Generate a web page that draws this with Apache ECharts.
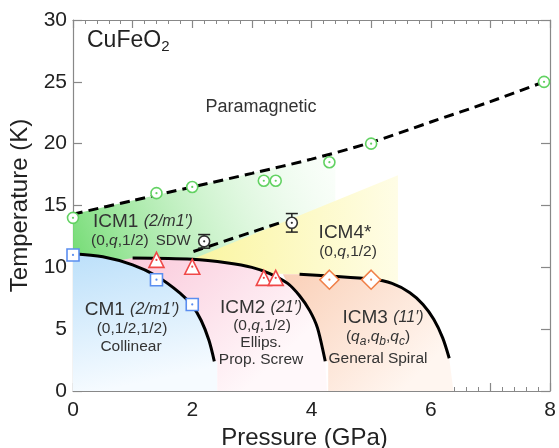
<!DOCTYPE html>
<html><head><meta charset="utf-8">
<script src="https://cdn.jsdelivr.net/npm/echarts@6/dist/echarts.min.js"></script>
<style>html,body{margin:0;padding:0;background:#fff}#c{width:559px;height:448px}</style>
</head><body><div id="c"></div>
<script>
// tick labels
const xTickLabels = [0, 2, 4, 6, 8];
const yTickLabels = [0, 5, 10, 15, 20, 25, 30];
// measured transition points
const paraPts = [[0,14],[1.4,16],[2,16.5],[3.2,17],[3.4,17],[4.3,18.5],[5,20],[7.9,25]];
const cm1Pts = [[0,11],[1.4,9],[2,7]];
const icm2Pts = [[1.4,10.6],[2,10.05],[3.2,9.15],[3.4,9.15]];
const icm3Pts = [[4.3,9],[5,9]];
const sdwPts = [[2.2,12.1,0.55],[3.67,13.6,0.75]];
// phase boundaries
const paraLine = [[0,14.3],[1,15.4],[2,16.5],[3,17.6],[4,18.75],[5,20.1],[6,21.75],[7,23.4],[7.9,25]];
const icm4Line = [[2.02,11.28],[3.53,13.7]];
const cm1Line = [[0,11.1],[0.5,10.85],[1.0,10.2],[1.4,9.3],[1.8,7.9],[2.0,6.9],[2.15,5.7],[2.28,4.1],[2.37,2.4]];
const icm2Line = [[1.0,10.75],[2.0,10.65],[2.6,10.35],[3.0,10.0],[3.3,9.5],[3.6,8.7],[3.8,7.7],[3.97,6.5],[4.1,5.1],[4.23,2.4]];
const icm3Line = [[3.8,9.45],[4.3,9.3],[5.0,9.05],[5.35,8.7],[5.65,7.95],[5.87,7.0],[6.05,5.8],[6.2,4.3],[6.31,2.65]];
// phase regions (shaded areas)
const regionICM1 = [[0,11.1],[0,14.3],[1,15.4],[2,16.5],[3,17.6],[4,18.75],[4.4,19.2],[4.4,9.3],[1,10.2],[0.5,10.9]];
const regionICM4 = [[2.0,10.65],[5.45,17.45],[5.45,8.4],[5.0,9.05],[4.3,9.3],[3.8,9.45],[3.3,9.5],[2.9,10.05]];
const regionCM1 = cm1Line.concat([[2.42,2.4],[2.42,0],[0,0]]);
const regionICM2 = [[0.8,10.6]].concat(icm2Line, [[4.26,0],[2.42,0],[2.42,2.4]], cm1Line.filter(p=>p[0]>=0.8).reverse());
const regionICM3 = [[3.52,9.45]].concat(icm3Line, [[6.38,0],[4.28,0],[4.28,2.4]], icm2Line.filter(p=>p[0]>=3.5).reverse());

const FONT = 'Liberation Sans, Arial, sans-serif';
const AX = '#888';
const chart = echarts.init(document.getElementById('c'));

function grad(x, y, x2, y2, c0, c1) {
  return {type:'linear', x:x, y:y, x2:x2, y2:y2, global:false, colorStops:[{offset:0,color:c0},{offset:1,color:c1}]};
}
function poly(pts, fill, z) {
  return {type:'custom', silent:true, z:z, data:[[0,0]], clip:true,
    renderItem:(params, api)=>({type:'polygon', shape:{points: pts.map(p=>api.coord(p)), smooth:0}, style:{fill: fill}})};
}
function line(pts, dashed) {
  return {type:'line', data:pts, smooth:0.3, symbol:'none', silent:true, z:5,
    lineStyle:{color:'#000', width:3, type: dashed ? [10,6] : 'solid', cap:'butt'}};
}
function marks(pts, symbol, size, color, z) {
  return [
    {type:'scatter', data:pts.map(p=>[p[0],p[1]]), symbol:symbol, symbolSize:size, z:z, silent:true,
      itemStyle:{color:'#fff', borderColor:color, borderWidth:1.6, opacity:1}},
    {type:'scatter', data:pts.map(p=>[p[0],p[1]]), symbol:'circle', symbolSize:2.2, z:z+1, silent:true,
      itemStyle:{color:color, opacity:1}}
  ];
}

const errSeries = {type:'custom', z:7, silent:true, data:sdwPts,
  renderItem:(params, api)=>{
    const x = api.value(0), y = api.value(1), e = api.value(2);
    const t = api.coord([x, y+e]), b = api.coord([x, y-e]);
    const w = 6, st = {stroke:'#222', lineWidth:1.5};
    return {type:'group', children:[
      {type:'line', shape:{x1:t[0],y1:t[1],x2:b[0],y2:b[1]}, style:st},
      {type:'line', shape:{x1:t[0]-w,y1:t[1],x2:t[0]+w,y2:t[1]}, style:st},
      {type:'line', shape:{x1:b[0]-w,y1:b[1],x2:b[0]+w,y2:b[1]}, style:st}
    ]};
  }};

const base = {n:{fontSize:15.5, fill:'#333', fontFamily:FONT, lineHeight:22},
  i:{fontSize:15.5, fontStyle:'italic', fill:'#333', fontFamily:FONT, lineHeight:22},
  g:{fontSize:15, fill:'#333', fontFamily:FONT, lineHeight:22, padding:[0,0,0,7]},
  p:{fontSize:18, fill:'#333', fontFamily:FONT, lineHeight:22},
  t:{fontSize:19, fill:'#333', fontFamily:FONT, lineHeight:22},
  ti:{fontSize:16, fontStyle:'italic', fill:'#333', fontFamily:FONT, lineHeight:22},
  s:{fontSize:12, fontStyle:'italic', fill:'#333', fontFamily:FONT, lineHeight:12, verticalAlign:'bottom'}};
function txt(x, y, text, align) {
  return {type:'text', x:x, y:y, z:100, silent:true,
    style:{text:text, rich:base, align:align || 'center', verticalAlign:'middle', fill:'#333', font:'16px '+FONT}};
}

const option = {
  animation:false,
  backgroundColor:'#fff',
  grid:{left:73, right:9, top:20, bottom:57, containLabel:false, outerBoundsMode:'none'},
  xAxis:[
    {type:'value', min:0, max:8, interval:1, position:'bottom',
      name:'Pressure (GPa)', nameLocation:'middle', nameGap:33,
      nameTextStyle:{fontSize:24, color:'#222', fontFamily:FONT, padding:[0,14,0,0]},
      axisLine:{show:true, onZero:false, lineStyle:{color:AX, width:1.2}},
      axisTick:{show:true, inside:true, length:8, lineStyle:{color:AX, width:1.2}},
      minorTick:{show:true, splitNumber:5, length:4, lineStyle:{color:AX, width:1}},
      splitLine:{show:false}, minorSplitLine:{show:false},
      axisLabel:{fontSize:21, color:'#222', fontFamily:FONT, margin:9, showMinLabel:true, showMaxLabel:true,
        formatter:v=>xTickLabels.indexOf(v)>=0 ? String(v) : ''}},
    {type:'value', min:0, max:8, interval:1, position:'top',
      axisLine:{show:true, onZero:false, lineStyle:{color:AX, width:1.2}},
      axisTick:{show:true, inside:true, length:8, lineStyle:{color:AX, width:1.2}},
      minorTick:{show:true, splitNumber:5, length:4, lineStyle:{color:AX, width:1}},
      splitLine:{show:false}, axisLabel:{show:false}}
  ],
  yAxis:[
    {type:'value', min:0, max:30, interval:5, position:'left',
      name:'Temperature (K)', nameLocation:'middle', nameGap:36, nameRotate:90,
      nameTextStyle:{fontSize:24, color:'#222', fontFamily:FONT},
      axisLine:{show:true, onZero:false, lineStyle:{color:AX, width:1.2}},
      axisTick:{show:true, inside:true, length:9, lineStyle:{color:AX, width:1.2}},
      splitLine:{show:false},
      axisLabel:{fontSize:21, color:'#222', fontFamily:FONT, margin:6, showMinLabel:true, showMaxLabel:true,
        formatter:v=>yTickLabels.indexOf(v)>=0 ? String(v) : ''}},
    {type:'value', min:0, max:30, interval:5, position:'right',
      axisLine:{show:true, onZero:false, lineStyle:{color:AX, width:1.2}},
      axisTick:{show:true, inside:true, length:9, lineStyle:{color:AX, width:1.2}},
      splitLine:{show:false}, axisLabel:{show:false}}
  ],
  series:[
    poly(regionICM1, grad(0,1,1,0,'rgba(110,218,110,1)','rgba(235,252,235,0.2)'), 1),
    poly(regionICM4, grad(0,0,1,0,'rgba(250,245,160,1)','rgba(255,253,230,1)'), 2),
    poly(regionCM1, grad(0,0,0.2,1,'rgb(188,224,250)','rgb(246,251,255)'), 3),
    poly(regionICM2, grad(0,0,0.6,1,'rgb(250,200,218)','rgb(255,248,250)'), 3),
    poly(regionICM3, grad(0,0,0.7,1,'rgb(250,208,184)','rgb(255,246,240)'), 3),
    line(paraLine, true),
    line(icm4Line, true),
    line(cm1Line, false),
    line(icm2Line, false),
    line(icm3Line, false),
    errSeries,
    ...marks(paraPts, 'circle', 11, '#62d262', 8),
    ...marks(cm1Pts, 'rect', 12, '#5b8ef0', 8),
    ...marks(icm2Pts, 'triangle', 15, '#f04848', 8),
    ...marks(icm3Pts, 'diamond', 19, '#f08048', 8),
    ...marks(sdwPts, 'circle', 11, '#333', 8)
  ],
  graphic:[
    {type:'text', left:87, top:29, z:100, silent:true, style:{text:'{a|CuFeO}{s|2}', rich:{
      a:{fontSize:23, fill:'#222', fontFamily:FONT, lineHeight:27},
      s:{fontSize:15, fill:'#222', fontFamily:FONT, lineHeight:15, verticalAlign:'bottom'}}}},
    txt(261, 107, '{p|Paramagnetic}'),
    txt(93, 222, '{t|ICM1 }{ti|(2/m1′)}', 'left'),
    txt(91, 241, '{n|(0,}{i|q}{n|,1/2)}{g|SDW}', 'left'),
    txt(345, 233, '{t|ICM4*}'),
    txt(348, 252, '{n|(0,}{i|q}{n|,1/2)}'),
    txt(132, 310, '{t|CM1 }{ti|(2/m1′)}'),
    txt(132, 329, '{n|(0,1/2,1/2)}'),
    txt(131, 347, '{n|Collinear}'),
    txt(261, 308, '{t|ICM2 }{ti|(21′)}'),
    txt(262, 326, '{n|(0,}{i|q}{n|,1/2)}'),
    txt(261, 343, '{n|Ellips.}'),
    txt(261, 360, '{n|Prop. Screw}'),
    txt(383, 318, '{t|ICM3 }{ti|(11′)}'),
    txt(378, 337, '{n|(}{i|q}{s|a}{n|,}{i|q}{s|b}{n|,}{i|q}{s|c}{n|)}'),
    txt(378, 359, '{n|General Spiral}')
  ]
};
chart.setOption(option);
</script></body></html>
